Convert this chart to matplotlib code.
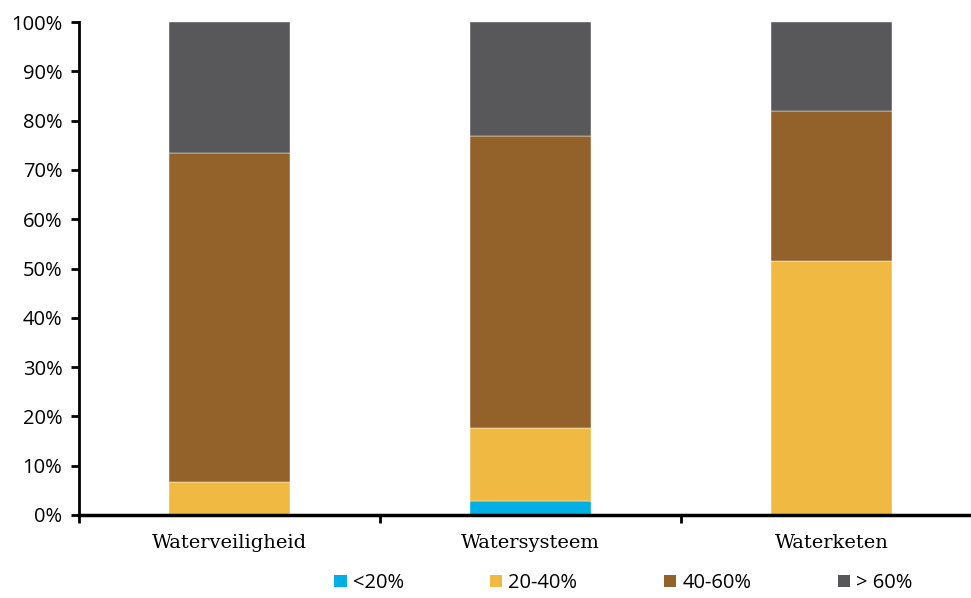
import matplotlib
matplotlib.use("Agg")
import matplotlib.pyplot as plt
import numpy as np
from matplotlib.ticker import FuncFormatter, MultipleLocator, FixedLocator
from matplotlib.patches import Patch

categories = ["Waterveiligheid", "Watersysteem", "Waterketen"]
series_names = ["<20%", "20-40%", "40-60%", "> 60%"]
lt20 = [0.0, 2.8, 0.0]
p20_40 = [6.6, 14.9, 51.6]
p40_60 = [66.9, 59.2, 30.3]
gt60 = [26.5, 23.1, 18.1]
colors = ["#00B0E4", "#F0BA42", "#93622A", "#58585A"]

fig = plt.figure(figsize=(9.71, 5.98), dpi=100)
ax = fig.add_axes([79/971, 1-515/598, (971-79)/971, (515-22)/598])

x = np.arange(len(categories))
bottom = np.zeros(len(categories))
for vals, c in zip([lt20, p20_40, p40_60, gt60], colors):
    ax.bar(x, vals, width=0.4, bottom=bottom, color=c, edgecolor="#ffffff", linewidth=0.3)
    bottom += np.array(vals)

ax.set_xlim(-0.5, -0.5 + (971-79)/301)
ax.set_ylim(0, 100)
ax.yaxis.set_major_locator(MultipleLocator(10))
ax.yaxis.set_major_formatter(FuncFormatter(lambda v, p: f"{v:.0f}%"))
ax.xaxis.set_major_locator(FixedLocator([-0.5, 0.5, 1.5, 2.5]))
ax.xaxis.set_major_formatter(FuncFormatter(lambda v, p: ""))
ax.xaxis.set_minor_locator(FixedLocator(x))
ax.set_xticklabels(categories, minor=True, fontfamily="DejaVu Serif", fontsize=14)
ax.tick_params(axis="x", which="minor", length=0, pad=14)
ax.tick_params(axis="x", which="major", length=6, width=2, direction="out")
ax.tick_params(axis="y", length=6, width=2, direction="out", labelsize=14.5, pad=6)
for lab in ax.get_yticklabels():
    lab.set_fontfamily("Open Sans")

for s in ["top", "right"]:
    ax.spines[s].set_visible(False)
ax.spines["left"].set_linewidth(2)
ax.spines["bottom"].set_linewidth(2.5)

handles = [Patch(facecolor=c, edgecolor="none") for c in colors]
fig.legend(handles, series_names, loc="lower center", bbox_to_anchor=(0.642, -0.022), ncol=4,
           frameon=False, handlelength=0.6, handleheight=0.6, handletextpad=0.3,
           columnspacing=4.3, prop={"family": "Open Sans", "size": 14.5})

fig.savefig("out.png", dpi=100)
